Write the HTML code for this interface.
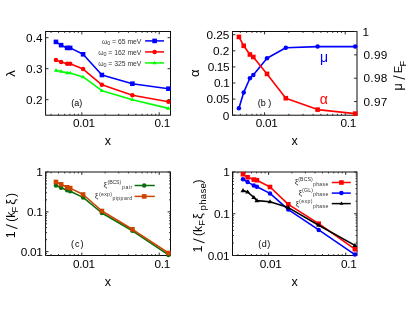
<!DOCTYPE html>
<html><head><meta charset="utf-8"><title>figure</title>
<style>html,body{margin:0;padding:0;background:#fff;}svg{display:block;font-family:"Liberation Sans", sans-serif;filter:blur(0.35px);}text{font-family:"Liberation Sans", sans-serif;}</style></head><body>
<svg width="415" height="312" viewBox="0 0 415 312">
<rect x="0" y="0" width="415" height="312" fill="#fff"/>
<rect x="45.6" y="31.5" width="124.9" height="83.7" fill="none" stroke="#000" stroke-width="0.95"/>
<line x1="51.06" y1="115.2" x2="51.06" y2="113.8" stroke="#2a2a2a" stroke-width="1.0"/>
<line x1="51.06" y1="31.5" x2="51.06" y2="32.9" stroke="#2a2a2a" stroke-width="1.0"/>
<line x1="58.56" y1="115.2" x2="58.56" y2="113.8" stroke="#2a2a2a" stroke-width="1.0"/>
<line x1="58.56" y1="31.5" x2="58.56" y2="32.9" stroke="#2a2a2a" stroke-width="1.0"/>
<line x1="64.68" y1="115.2" x2="64.68" y2="113.8" stroke="#2a2a2a" stroke-width="1.0"/>
<line x1="64.68" y1="31.5" x2="64.68" y2="32.9" stroke="#2a2a2a" stroke-width="1.0"/>
<line x1="69.86" y1="115.2" x2="69.86" y2="113.8" stroke="#2a2a2a" stroke-width="1.0"/>
<line x1="69.86" y1="31.5" x2="69.86" y2="32.9" stroke="#2a2a2a" stroke-width="1.0"/>
<line x1="74.35" y1="115.2" x2="74.35" y2="113.8" stroke="#2a2a2a" stroke-width="1.0"/>
<line x1="74.35" y1="31.5" x2="74.35" y2="32.9" stroke="#2a2a2a" stroke-width="1.0"/>
<line x1="78.3" y1="115.2" x2="78.3" y2="113.8" stroke="#2a2a2a" stroke-width="1.0"/>
<line x1="78.3" y1="31.5" x2="78.3" y2="32.9" stroke="#2a2a2a" stroke-width="1.0"/>
<line x1="81.84" y1="115.2" x2="81.84" y2="112.3" stroke="#2a2a2a" stroke-width="1.0"/>
<line x1="81.84" y1="31.5" x2="81.84" y2="34.4" stroke="#2a2a2a" stroke-width="1.0"/>
<line x1="105.13" y1="115.2" x2="105.13" y2="113.8" stroke="#2a2a2a" stroke-width="1.0"/>
<line x1="105.13" y1="31.5" x2="105.13" y2="32.9" stroke="#2a2a2a" stroke-width="1.0"/>
<line x1="118.75" y1="115.2" x2="118.75" y2="113.8" stroke="#2a2a2a" stroke-width="1.0"/>
<line x1="118.75" y1="31.5" x2="118.75" y2="32.9" stroke="#2a2a2a" stroke-width="1.0"/>
<line x1="128.41" y1="115.2" x2="128.41" y2="113.8" stroke="#2a2a2a" stroke-width="1.0"/>
<line x1="128.41" y1="31.5" x2="128.41" y2="32.9" stroke="#2a2a2a" stroke-width="1.0"/>
<line x1="135.91" y1="115.2" x2="135.91" y2="113.8" stroke="#2a2a2a" stroke-width="1.0"/>
<line x1="135.91" y1="31.5" x2="135.91" y2="32.9" stroke="#2a2a2a" stroke-width="1.0"/>
<line x1="142.04" y1="115.2" x2="142.04" y2="113.8" stroke="#2a2a2a" stroke-width="1.0"/>
<line x1="142.04" y1="31.5" x2="142.04" y2="32.9" stroke="#2a2a2a" stroke-width="1.0"/>
<line x1="147.21" y1="115.2" x2="147.21" y2="113.8" stroke="#2a2a2a" stroke-width="1.0"/>
<line x1="147.21" y1="31.5" x2="147.21" y2="32.9" stroke="#2a2a2a" stroke-width="1.0"/>
<line x1="151.7" y1="115.2" x2="151.7" y2="113.8" stroke="#2a2a2a" stroke-width="1.0"/>
<line x1="151.7" y1="31.5" x2="151.7" y2="32.9" stroke="#2a2a2a" stroke-width="1.0"/>
<line x1="155.66" y1="115.2" x2="155.66" y2="113.8" stroke="#2a2a2a" stroke-width="1.0"/>
<line x1="155.66" y1="31.5" x2="155.66" y2="32.9" stroke="#2a2a2a" stroke-width="1.0"/>
<line x1="159.2" y1="115.2" x2="159.2" y2="112.3" stroke="#2a2a2a" stroke-width="1.0"/>
<line x1="159.2" y1="31.5" x2="159.2" y2="34.4" stroke="#2a2a2a" stroke-width="1.0"/>
<line x1="45.6" y1="99.7" x2="48.5" y2="99.7" stroke="#2a2a2a" stroke-width="1.0"/>
<line x1="170.5" y1="99.7" x2="167.6" y2="99.7" stroke="#2a2a2a" stroke-width="1.0"/>
<text x="42.5" y="104.05" font-size="11.8" text-anchor="end" fill="#000">0.2</text>
<line x1="45.6" y1="68.7" x2="48.5" y2="68.7" stroke="#2a2a2a" stroke-width="1.0"/>
<line x1="170.5" y1="68.7" x2="167.6" y2="68.7" stroke="#2a2a2a" stroke-width="1.0"/>
<text x="42.5" y="73.05" font-size="11.8" text-anchor="end" fill="#000">0.3</text>
<line x1="45.6" y1="37.7" x2="48.5" y2="37.7" stroke="#2a2a2a" stroke-width="1.0"/>
<line x1="170.5" y1="37.7" x2="167.6" y2="37.7" stroke="#2a2a2a" stroke-width="1.0"/>
<text x="42.5" y="42.05" font-size="11.8" text-anchor="end" fill="#000">0.4</text>
<path d="M55.95 41.9 L61.1 45.15 L67.15 47.9 L70.15 47.9 L83.1 54.3 L101.9 75 L132.4 83.7 L168.45 88.7" fill="none" stroke="#0000ff" stroke-width="1.6" stroke-linejoin="round"/>
<rect x="53.65" y="39.6" width="4.6" height="4.6" fill="#0000ff"/>
<rect x="58.8" y="42.85" width="4.6" height="4.6" fill="#0000ff"/>
<rect x="64.85" y="45.6" width="4.6" height="4.6" fill="#0000ff"/>
<rect x="67.85" y="45.6" width="4.6" height="4.6" fill="#0000ff"/>
<rect x="80.8" y="52" width="4.6" height="4.6" fill="#0000ff"/>
<rect x="99.6" y="72.7" width="4.6" height="4.6" fill="#0000ff"/>
<rect x="130.1" y="81.4" width="4.6" height="4.6" fill="#0000ff"/>
<rect x="166.15" y="86.4" width="4.6" height="4.6" fill="#0000ff"/>
<path d="M55.95 60.1 L61.1 61.9 L67.15 63.8 L70.15 63.8 L83.1 69.1 L101.9 84.8 L132.4 95.3 L168.45 101.7" fill="none" stroke="#ff0000" stroke-width="1.6" stroke-linejoin="round"/>
<circle cx="55.95" cy="60.1" r="2.25" fill="#ff0000"/>
<circle cx="61.1" cy="61.9" r="2.25" fill="#ff0000"/>
<circle cx="67.15" cy="63.8" r="2.25" fill="#ff0000"/>
<circle cx="70.15" cy="63.8" r="2.25" fill="#ff0000"/>
<circle cx="83.1" cy="69.1" r="2.25" fill="#ff0000"/>
<circle cx="101.9" cy="84.8" r="2.25" fill="#ff0000"/>
<circle cx="132.4" cy="95.3" r="2.25" fill="#ff0000"/>
<circle cx="168.45" cy="101.7" r="2.25" fill="#ff0000"/>
<path d="M55.95 70.3 L61.1 71.5 L67.15 72.9 L70.15 72.9 L83.1 76.9 L101.9 90.7 L132.4 99.7 L168.45 108.4" fill="none" stroke="#00ff00" stroke-width="1.6" stroke-linejoin="round"/>
<path d="M55.95 68.1 L53.75 71.66 L58.15 71.66 Z" fill="#00ff00"/>
<path d="M61.1 69.3 L58.9 72.86 L63.3 72.86 Z" fill="#00ff00"/>
<path d="M67.15 70.7 L64.95 74.26 L69.35 74.26 Z" fill="#00ff00"/>
<path d="M70.15 70.7 L67.95 74.26 L72.35 74.26 Z" fill="#00ff00"/>
<path d="M83.1 74.7 L80.9 78.26 L85.3 78.26 Z" fill="#00ff00"/>
<path d="M101.9 88.5 L99.7 92.06 L104.1 92.06 Z" fill="#00ff00"/>
<path d="M132.4 97.5 L130.2 101.06 L134.6 101.06 Z" fill="#00ff00"/>
<path d="M168.45 106.2 L166.25 109.76 L170.65 109.76 Z" fill="#00ff00"/>
<text x="83.84" y="127.4" font-size="11.8" text-anchor="middle" fill="#000" letter-spacing="-0.3">0.01</text>
<text x="162.2" y="127.4" font-size="11.8" text-anchor="middle" fill="#000" letter-spacing="-0.3">0.1</text>
<text x="107.9" y="145.1" font-size="12.5" text-anchor="middle" fill="#000">x</text>
<text x="0" y="0" font-size="13" text-anchor="middle" fill="#000" transform="translate(14.9 73.6) rotate(-90)">&#955;</text>
<text x="76.7" y="106.3" font-size="9" text-anchor="middle" fill="#000">(a)</text>
<line x1="145.1" y1="40.9" x2="164" y2="40.9" stroke="#0000ff" stroke-width="1.5"/>
<rect x="152.3" y="38.6" width="4.6" height="4.6" fill="#0000ff"/>
<text x="141.4" y="43.5" font-size="6.8" text-anchor="end" fill="#333">&#969;<tspan dy="1.6" font-size="5.4">0</tspan><tspan dy="-1.6"> = 65 meV</tspan></text>
<line x1="145.1" y1="51.9" x2="164" y2="51.9" stroke="#ff0000" stroke-width="1.5"/>
<circle cx="154.6" cy="51.9" r="2.25" fill="#ff0000"/>
<text x="141.4" y="54.5" font-size="6.8" text-anchor="end" fill="#333">&#969;<tspan dy="1.6" font-size="5.4">0</tspan><tspan dy="-1.6"> = 162 meV</tspan></text>
<line x1="145.1" y1="62.9" x2="164" y2="62.9" stroke="#00ff00" stroke-width="1.5"/>
<path d="M154.6 60.7 L152.4 64.26 L156.8 64.26 Z" fill="#00ff00"/>
<text x="141.4" y="65.5" font-size="6.8" text-anchor="end" fill="#333">&#969;<tspan dy="1.6" font-size="5.4">0</tspan><tspan dy="-1.6"> = 325 meV</tspan></text>
<rect x="232.5" y="31.5" width="124.5" height="83.7" fill="none" stroke="#000" stroke-width="0.95"/>
<line x1="232.5" y1="115.2" x2="232.5" y2="113.8" stroke="#2a2a2a" stroke-width="1.0"/>
<line x1="232.5" y1="31.5" x2="232.5" y2="32.9" stroke="#2a2a2a" stroke-width="1.0"/>
<line x1="240.31" y1="115.2" x2="240.31" y2="113.8" stroke="#2a2a2a" stroke-width="1.0"/>
<line x1="240.31" y1="31.5" x2="240.31" y2="32.9" stroke="#2a2a2a" stroke-width="1.0"/>
<line x1="246.7" y1="115.2" x2="246.7" y2="113.8" stroke="#2a2a2a" stroke-width="1.0"/>
<line x1="246.7" y1="31.5" x2="246.7" y2="32.9" stroke="#2a2a2a" stroke-width="1.0"/>
<line x1="252.1" y1="115.2" x2="252.1" y2="113.8" stroke="#2a2a2a" stroke-width="1.0"/>
<line x1="252.1" y1="31.5" x2="252.1" y2="32.9" stroke="#2a2a2a" stroke-width="1.0"/>
<line x1="256.77" y1="115.2" x2="256.77" y2="113.8" stroke="#2a2a2a" stroke-width="1.0"/>
<line x1="256.77" y1="31.5" x2="256.77" y2="32.9" stroke="#2a2a2a" stroke-width="1.0"/>
<line x1="260.9" y1="115.2" x2="260.9" y2="113.8" stroke="#2a2a2a" stroke-width="1.0"/>
<line x1="260.9" y1="31.5" x2="260.9" y2="32.9" stroke="#2a2a2a" stroke-width="1.0"/>
<line x1="264.59" y1="115.2" x2="264.59" y2="112.3" stroke="#2a2a2a" stroke-width="1.0"/>
<line x1="264.59" y1="31.5" x2="264.59" y2="34.4" stroke="#2a2a2a" stroke-width="1.0"/>
<line x1="288.86" y1="115.2" x2="288.86" y2="113.8" stroke="#2a2a2a" stroke-width="1.0"/>
<line x1="288.86" y1="31.5" x2="288.86" y2="32.9" stroke="#2a2a2a" stroke-width="1.0"/>
<line x1="303.06" y1="115.2" x2="303.06" y2="113.8" stroke="#2a2a2a" stroke-width="1.0"/>
<line x1="303.06" y1="31.5" x2="303.06" y2="32.9" stroke="#2a2a2a" stroke-width="1.0"/>
<line x1="313.13" y1="115.2" x2="313.13" y2="113.8" stroke="#2a2a2a" stroke-width="1.0"/>
<line x1="313.13" y1="31.5" x2="313.13" y2="32.9" stroke="#2a2a2a" stroke-width="1.0"/>
<line x1="320.95" y1="115.2" x2="320.95" y2="113.8" stroke="#2a2a2a" stroke-width="1.0"/>
<line x1="320.95" y1="31.5" x2="320.95" y2="32.9" stroke="#2a2a2a" stroke-width="1.0"/>
<line x1="327.33" y1="115.2" x2="327.33" y2="113.8" stroke="#2a2a2a" stroke-width="1.0"/>
<line x1="327.33" y1="31.5" x2="327.33" y2="32.9" stroke="#2a2a2a" stroke-width="1.0"/>
<line x1="332.73" y1="115.2" x2="332.73" y2="113.8" stroke="#2a2a2a" stroke-width="1.0"/>
<line x1="332.73" y1="31.5" x2="332.73" y2="32.9" stroke="#2a2a2a" stroke-width="1.0"/>
<line x1="337.4" y1="115.2" x2="337.4" y2="113.8" stroke="#2a2a2a" stroke-width="1.0"/>
<line x1="337.4" y1="31.5" x2="337.4" y2="32.9" stroke="#2a2a2a" stroke-width="1.0"/>
<line x1="341.53" y1="115.2" x2="341.53" y2="113.8" stroke="#2a2a2a" stroke-width="1.0"/>
<line x1="341.53" y1="31.5" x2="341.53" y2="32.9" stroke="#2a2a2a" stroke-width="1.0"/>
<line x1="345.22" y1="115.2" x2="345.22" y2="112.3" stroke="#2a2a2a" stroke-width="1.0"/>
<line x1="345.22" y1="31.5" x2="345.22" y2="34.4" stroke="#2a2a2a" stroke-width="1.0"/>
<line x1="232.5" y1="115.2" x2="235.4" y2="115.2" stroke="#2a2a2a" stroke-width="1.0"/>
<text x="229.4" y="119.55" font-size="11.8" text-anchor="end" fill="#000">0</text>
<line x1="232.5" y1="99.1" x2="235.4" y2="99.1" stroke="#2a2a2a" stroke-width="1.0"/>
<text x="229.4" y="103.45" font-size="11.8" text-anchor="end" fill="#000">0.05</text>
<line x1="232.5" y1="83.01" x2="235.4" y2="83.01" stroke="#2a2a2a" stroke-width="1.0"/>
<text x="229.4" y="87.36" font-size="11.8" text-anchor="end" fill="#000" letter-spacing="-0.3">0.1</text>
<line x1="232.5" y1="66.91" x2="235.4" y2="66.91" stroke="#2a2a2a" stroke-width="1.0"/>
<text x="229.4" y="71.26" font-size="11.8" text-anchor="end" fill="#000" letter-spacing="-0.3">0.15</text>
<line x1="232.5" y1="50.82" x2="235.4" y2="50.82" stroke="#2a2a2a" stroke-width="1.0"/>
<text x="229.4" y="55.17" font-size="11.8" text-anchor="end" fill="#000">0.2</text>
<line x1="232.5" y1="34.72" x2="235.4" y2="34.72" stroke="#2a2a2a" stroke-width="1.0"/>
<text x="229.4" y="39.07" font-size="11.8" text-anchor="end" fill="#000">0.25</text>
<line x1="357" y1="101.56" x2="354.1" y2="101.56" stroke="#2a2a2a" stroke-width="1.0"/>
<text x="363.5" y="105.76" font-size="11.8" text-anchor="start" fill="#000" letter-spacing="0.3">0.97</text>
<line x1="357" y1="78.21" x2="354.1" y2="78.21" stroke="#2a2a2a" stroke-width="1.0"/>
<text x="363.5" y="82.41" font-size="11.8" text-anchor="start" fill="#000" letter-spacing="0.3">0.98</text>
<line x1="357" y1="54.85" x2="354.1" y2="54.85" stroke="#2a2a2a" stroke-width="1.0"/>
<text x="363.5" y="59.05" font-size="11.8" text-anchor="start" fill="#000" letter-spacing="0.3">0.99</text>
<line x1="357" y1="31.5" x2="354.1" y2="31.5" stroke="#2a2a2a" stroke-width="1.0"/>
<text x="362.6" y="35.7" font-size="11.8" text-anchor="start" fill="#000" letter-spacing="0.3">1</text>
<path d="M238.9 108.2 L243.7 92.4 L249.9 78.3 L253.3 75.1 L267 58.3 L285.8 47.7 L317.6 46.6 L355.2 46.6" fill="none" stroke="#0000ff" stroke-width="1.6" stroke-linejoin="round"/>
<circle cx="238.9" cy="108.2" r="2.25" fill="#0000ff"/>
<circle cx="243.7" cy="92.4" r="2.25" fill="#0000ff"/>
<circle cx="249.9" cy="78.3" r="2.25" fill="#0000ff"/>
<circle cx="253.3" cy="75.1" r="2.25" fill="#0000ff"/>
<circle cx="267" cy="58.3" r="2.25" fill="#0000ff"/>
<circle cx="285.8" cy="47.7" r="2.25" fill="#0000ff"/>
<circle cx="317.6" cy="46.6" r="2.25" fill="#0000ff"/>
<circle cx="355.2" cy="46.6" r="2.25" fill="#0000ff"/>
<path d="M238.9 36.9 L243.7 45.8 L249.9 54.5 L253.3 57 L267 73.9 L285.8 98.2 L317.6 109.6 L355.2 113.6" fill="none" stroke="#ff0000" stroke-width="1.6" stroke-linejoin="round"/>
<rect x="236.6" y="34.6" width="4.6" height="4.6" fill="#ff0000"/>
<rect x="241.4" y="43.5" width="4.6" height="4.6" fill="#ff0000"/>
<rect x="247.6" y="52.2" width="4.6" height="4.6" fill="#ff0000"/>
<rect x="251" y="54.7" width="4.6" height="4.6" fill="#ff0000"/>
<rect x="264.7" y="71.6" width="4.6" height="4.6" fill="#ff0000"/>
<rect x="283.5" y="95.9" width="4.6" height="4.6" fill="#ff0000"/>
<rect x="315.3" y="107.3" width="4.6" height="4.6" fill="#ff0000"/>
<rect x="352.9" y="111.3" width="4.6" height="4.6" fill="#ff0000"/>
<text x="266.59" y="127.4" font-size="11.8" text-anchor="middle" fill="#000" letter-spacing="-0.3">0.01</text>
<text x="348.22" y="127.4" font-size="11.8" text-anchor="middle" fill="#000" letter-spacing="-0.3">0.1</text>
<text x="294.5" y="145.1" font-size="12.5" text-anchor="middle" fill="#000">x</text>
<text x="0" y="0" font-size="13" text-anchor="middle" fill="#000" transform="translate(199.1 73.3) rotate(-90)">&#945;</text>
<text x="0" y="0" font-size="12.5" text-anchor="start" fill="#000" transform="translate(402.4 90.4) rotate(-90)">&#956;</text>
<line x1="404.6" y1="79.1" x2="393.6" y2="76.0" stroke="#111" stroke-width="1.05" stroke-linecap="round"/>
<text x="0" y="0" font-size="11.4" text-anchor="start" fill="#000" transform="translate(402.4 73.2) rotate(-90)">E</text>
<text x="0" y="0" font-size="9.4" text-anchor="start" fill="#000" transform="translate(405.9 66.6) rotate(-90)">F</text>
<text x="264.6" y="106.2" font-size="9" text-anchor="middle" fill="#000">(b )</text>
<text x="324" y="61.5" font-size="14" text-anchor="middle" fill="#0000ff">&#956;</text>
<text x="323.7" y="103.6" font-size="14" text-anchor="middle" fill="#ff0000">&#945;</text>
<rect x="45.6" y="172" width="124.9" height="83.5" fill="none" stroke="#000" stroke-width="0.95"/>
<line x1="51.06" y1="255.5" x2="51.06" y2="254.1" stroke="#2a2a2a" stroke-width="1.0"/>
<line x1="51.06" y1="172" x2="51.06" y2="173.4" stroke="#2a2a2a" stroke-width="1.0"/>
<line x1="58.56" y1="255.5" x2="58.56" y2="254.1" stroke="#2a2a2a" stroke-width="1.0"/>
<line x1="58.56" y1="172" x2="58.56" y2="173.4" stroke="#2a2a2a" stroke-width="1.0"/>
<line x1="64.68" y1="255.5" x2="64.68" y2="254.1" stroke="#2a2a2a" stroke-width="1.0"/>
<line x1="64.68" y1="172" x2="64.68" y2="173.4" stroke="#2a2a2a" stroke-width="1.0"/>
<line x1="69.86" y1="255.5" x2="69.86" y2="254.1" stroke="#2a2a2a" stroke-width="1.0"/>
<line x1="69.86" y1="172" x2="69.86" y2="173.4" stroke="#2a2a2a" stroke-width="1.0"/>
<line x1="74.35" y1="255.5" x2="74.35" y2="254.1" stroke="#2a2a2a" stroke-width="1.0"/>
<line x1="74.35" y1="172" x2="74.35" y2="173.4" stroke="#2a2a2a" stroke-width="1.0"/>
<line x1="78.3" y1="255.5" x2="78.3" y2="254.1" stroke="#2a2a2a" stroke-width="1.0"/>
<line x1="78.3" y1="172" x2="78.3" y2="173.4" stroke="#2a2a2a" stroke-width="1.0"/>
<line x1="81.84" y1="255.5" x2="81.84" y2="252.6" stroke="#2a2a2a" stroke-width="1.0"/>
<line x1="81.84" y1="172" x2="81.84" y2="174.9" stroke="#2a2a2a" stroke-width="1.0"/>
<line x1="105.13" y1="255.5" x2="105.13" y2="254.1" stroke="#2a2a2a" stroke-width="1.0"/>
<line x1="105.13" y1="172" x2="105.13" y2="173.4" stroke="#2a2a2a" stroke-width="1.0"/>
<line x1="118.75" y1="255.5" x2="118.75" y2="254.1" stroke="#2a2a2a" stroke-width="1.0"/>
<line x1="118.75" y1="172" x2="118.75" y2="173.4" stroke="#2a2a2a" stroke-width="1.0"/>
<line x1="128.41" y1="255.5" x2="128.41" y2="254.1" stroke="#2a2a2a" stroke-width="1.0"/>
<line x1="128.41" y1="172" x2="128.41" y2="173.4" stroke="#2a2a2a" stroke-width="1.0"/>
<line x1="135.91" y1="255.5" x2="135.91" y2="254.1" stroke="#2a2a2a" stroke-width="1.0"/>
<line x1="135.91" y1="172" x2="135.91" y2="173.4" stroke="#2a2a2a" stroke-width="1.0"/>
<line x1="142.04" y1="255.5" x2="142.04" y2="254.1" stroke="#2a2a2a" stroke-width="1.0"/>
<line x1="142.04" y1="172" x2="142.04" y2="173.4" stroke="#2a2a2a" stroke-width="1.0"/>
<line x1="147.21" y1="255.5" x2="147.21" y2="254.1" stroke="#2a2a2a" stroke-width="1.0"/>
<line x1="147.21" y1="172" x2="147.21" y2="173.4" stroke="#2a2a2a" stroke-width="1.0"/>
<line x1="151.7" y1="255.5" x2="151.7" y2="254.1" stroke="#2a2a2a" stroke-width="1.0"/>
<line x1="151.7" y1="172" x2="151.7" y2="173.4" stroke="#2a2a2a" stroke-width="1.0"/>
<line x1="155.66" y1="255.5" x2="155.66" y2="254.1" stroke="#2a2a2a" stroke-width="1.0"/>
<line x1="155.66" y1="172" x2="155.66" y2="173.4" stroke="#2a2a2a" stroke-width="1.0"/>
<line x1="159.2" y1="255.5" x2="159.2" y2="252.6" stroke="#2a2a2a" stroke-width="1.0"/>
<line x1="159.2" y1="172" x2="159.2" y2="174.9" stroke="#2a2a2a" stroke-width="1.0"/>
<line x1="45.6" y1="255.5" x2="47" y2="255.5" stroke="#2a2a2a" stroke-width="1.0"/>
<line x1="170.5" y1="255.5" x2="169.1" y2="255.5" stroke="#2a2a2a" stroke-width="1.0"/>
<line x1="45.6" y1="253.46" x2="47" y2="253.46" stroke="#2a2a2a" stroke-width="1.0"/>
<line x1="170.5" y1="253.46" x2="169.1" y2="253.46" stroke="#2a2a2a" stroke-width="1.0"/>
<line x1="45.6" y1="251.64" x2="48.5" y2="251.64" stroke="#2a2a2a" stroke-width="1.0"/>
<line x1="170.5" y1="251.64" x2="167.6" y2="251.64" stroke="#2a2a2a" stroke-width="1.0"/>
<line x1="45.6" y1="239.65" x2="47" y2="239.65" stroke="#2a2a2a" stroke-width="1.0"/>
<line x1="170.5" y1="239.65" x2="169.1" y2="239.65" stroke="#2a2a2a" stroke-width="1.0"/>
<line x1="45.6" y1="232.64" x2="47" y2="232.64" stroke="#2a2a2a" stroke-width="1.0"/>
<line x1="170.5" y1="232.64" x2="169.1" y2="232.64" stroke="#2a2a2a" stroke-width="1.0"/>
<line x1="45.6" y1="227.67" x2="47" y2="227.67" stroke="#2a2a2a" stroke-width="1.0"/>
<line x1="170.5" y1="227.67" x2="169.1" y2="227.67" stroke="#2a2a2a" stroke-width="1.0"/>
<line x1="45.6" y1="223.81" x2="47" y2="223.81" stroke="#2a2a2a" stroke-width="1.0"/>
<line x1="170.5" y1="223.81" x2="169.1" y2="223.81" stroke="#2a2a2a" stroke-width="1.0"/>
<line x1="45.6" y1="220.65" x2="47" y2="220.65" stroke="#2a2a2a" stroke-width="1.0"/>
<line x1="170.5" y1="220.65" x2="169.1" y2="220.65" stroke="#2a2a2a" stroke-width="1.0"/>
<line x1="45.6" y1="217.99" x2="47" y2="217.99" stroke="#2a2a2a" stroke-width="1.0"/>
<line x1="170.5" y1="217.99" x2="169.1" y2="217.99" stroke="#2a2a2a" stroke-width="1.0"/>
<line x1="45.6" y1="215.68" x2="47" y2="215.68" stroke="#2a2a2a" stroke-width="1.0"/>
<line x1="170.5" y1="215.68" x2="169.1" y2="215.68" stroke="#2a2a2a" stroke-width="1.0"/>
<line x1="45.6" y1="213.64" x2="47" y2="213.64" stroke="#2a2a2a" stroke-width="1.0"/>
<line x1="170.5" y1="213.64" x2="169.1" y2="213.64" stroke="#2a2a2a" stroke-width="1.0"/>
<line x1="45.6" y1="211.82" x2="48.5" y2="211.82" stroke="#2a2a2a" stroke-width="1.0"/>
<line x1="170.5" y1="211.82" x2="167.6" y2="211.82" stroke="#2a2a2a" stroke-width="1.0"/>
<line x1="45.6" y1="199.83" x2="47" y2="199.83" stroke="#2a2a2a" stroke-width="1.0"/>
<line x1="170.5" y1="199.83" x2="169.1" y2="199.83" stroke="#2a2a2a" stroke-width="1.0"/>
<line x1="45.6" y1="192.82" x2="47" y2="192.82" stroke="#2a2a2a" stroke-width="1.0"/>
<line x1="170.5" y1="192.82" x2="169.1" y2="192.82" stroke="#2a2a2a" stroke-width="1.0"/>
<line x1="45.6" y1="187.85" x2="47" y2="187.85" stroke="#2a2a2a" stroke-width="1.0"/>
<line x1="170.5" y1="187.85" x2="169.1" y2="187.85" stroke="#2a2a2a" stroke-width="1.0"/>
<line x1="45.6" y1="183.99" x2="47" y2="183.99" stroke="#2a2a2a" stroke-width="1.0"/>
<line x1="170.5" y1="183.99" x2="169.1" y2="183.99" stroke="#2a2a2a" stroke-width="1.0"/>
<line x1="45.6" y1="180.83" x2="47" y2="180.83" stroke="#2a2a2a" stroke-width="1.0"/>
<line x1="170.5" y1="180.83" x2="169.1" y2="180.83" stroke="#2a2a2a" stroke-width="1.0"/>
<line x1="45.6" y1="178.17" x2="47" y2="178.17" stroke="#2a2a2a" stroke-width="1.0"/>
<line x1="170.5" y1="178.17" x2="169.1" y2="178.17" stroke="#2a2a2a" stroke-width="1.0"/>
<line x1="45.6" y1="175.86" x2="47" y2="175.86" stroke="#2a2a2a" stroke-width="1.0"/>
<line x1="170.5" y1="175.86" x2="169.1" y2="175.86" stroke="#2a2a2a" stroke-width="1.0"/>
<line x1="45.6" y1="173.82" x2="47" y2="173.82" stroke="#2a2a2a" stroke-width="1.0"/>
<line x1="170.5" y1="173.82" x2="169.1" y2="173.82" stroke="#2a2a2a" stroke-width="1.0"/>
<line x1="45.6" y1="172" x2="48.5" y2="172" stroke="#2a2a2a" stroke-width="1.0"/>
<line x1="170.5" y1="172" x2="167.6" y2="172" stroke="#2a2a2a" stroke-width="1.0"/>
<text x="42.5" y="255.99" font-size="11.8" text-anchor="end" fill="#000" letter-spacing="-0.3">0.01</text>
<text x="42.5" y="216.17" font-size="11.8" text-anchor="end" fill="#000" letter-spacing="-0.3">0.1</text>
<text x="42.5" y="176.35" font-size="11.8" text-anchor="end" fill="#000" letter-spacing="-0.3">1</text>
<path d="M55.95 185.4 L61.1 187.7 L67.15 190.2 L70.15 191.2 L83.1 197.4 L101.9 213 L132.4 230.8 L168.45 254.9" fill="none" stroke="#0a6e0a" stroke-width="1.6" stroke-linejoin="round"/>
<circle cx="55.95" cy="185.4" r="2.25" fill="#0a6e0a"/>
<circle cx="61.1" cy="187.7" r="2.25" fill="#0a6e0a"/>
<circle cx="67.15" cy="190.2" r="2.25" fill="#0a6e0a"/>
<circle cx="70.15" cy="191.2" r="2.25" fill="#0a6e0a"/>
<circle cx="83.1" cy="197.4" r="2.25" fill="#0a6e0a"/>
<circle cx="101.9" cy="213" r="2.25" fill="#0a6e0a"/>
<circle cx="132.4" cy="230.8" r="2.25" fill="#0a6e0a"/>
<circle cx="168.45" cy="254.9" r="2.25" fill="#0a6e0a"/>
<path d="M55.95 181.95 L61.1 184.3 L67.15 187.3 L70.15 188.1 L83.1 194.5 L101.9 211 L132.4 229.3 L168.45 253" fill="none" stroke="#cc4400" stroke-width="1.6" stroke-linejoin="round"/>
<rect x="53.65" y="179.65" width="4.6" height="4.6" fill="#cc4400"/>
<rect x="58.8" y="182" width="4.6" height="4.6" fill="#cc4400"/>
<rect x="64.85" y="185" width="4.6" height="4.6" fill="#cc4400"/>
<rect x="67.85" y="185.8" width="4.6" height="4.6" fill="#cc4400"/>
<rect x="80.8" y="192.2" width="4.6" height="4.6" fill="#cc4400"/>
<rect x="99.6" y="208.7" width="4.6" height="4.6" fill="#cc4400"/>
<rect x="130.1" y="227" width="4.6" height="4.6" fill="#cc4400"/>
<rect x="166.15" y="250.7" width="4.6" height="4.6" fill="#cc4400"/>
<text x="83.84" y="267.7" font-size="11.8" text-anchor="middle" fill="#000" letter-spacing="-0.3">0.01</text>
<text x="162.2" y="267.7" font-size="11.8" text-anchor="middle" fill="#000" letter-spacing="-0.3">0.1</text>
<text x="107.9" y="285.6" font-size="12.5" text-anchor="middle" fill="#000">x</text>
<text x="0" y="0" font-size="12.2" text-anchor="start" fill="#000" transform="translate(14.9 238.2) rotate(-90)">1</text>
<line x1="17" y1="228.6" x2="6.4" y2="224.8" stroke="#111" stroke-width="1.05" stroke-linecap="round"/>
<text x="0" y="0" font-size="12.2" text-anchor="start" fill="#000" transform="translate(14.9 221.8) rotate(-90)">(k</text>
<text x="0" y="0" font-size="9.2" text-anchor="start" fill="#000" transform="translate(18 212.4) rotate(-90)">F</text>
<text x="0" y="0" font-size="13" text-anchor="start" fill="#000" transform="translate(14.9 204.8) rotate(-90)">&#958;</text>
<text x="0" y="0" font-size="12.2" text-anchor="start" fill="#000" transform="translate(14.9 197.1) rotate(-90)">)</text>
<text x="77.7" y="246.9" font-size="9" text-anchor="middle" fill="#000" letter-spacing="1">(c)</text>
<line x1="134.6" y1="185.5" x2="154.8" y2="185.5" stroke="#0a6e0a" stroke-width="1.5"/>
<circle cx="144.2" cy="185.5" r="2.25" fill="#0a6e0a"/>
<text x="103.5" y="187" font-size="8" text-anchor="start" fill="#333">&#958;</text>
<text x="107.6" y="184.4" font-size="5.2" text-anchor="start" fill="#333" letter-spacing="-0.15">(BCS)</text>
<text x="122" y="189.4" font-size="5.2" text-anchor="start" fill="#333" letter-spacing="0.5">pair</text>
<line x1="134.6" y1="196.4" x2="154.8" y2="196.4" stroke="#cc4400" stroke-width="1.5"/>
<rect x="141.9" y="194.1" width="4.6" height="4.6" fill="#cc4400"/>
<text x="94.8" y="197.6" font-size="8" text-anchor="start" fill="#333">&#958;</text>
<text x="99.1" y="195.5" font-size="5.2" text-anchor="start" fill="#333" letter-spacing="0.25">(exp)</text>
<text x="112.5" y="200.4" font-size="5.2" text-anchor="start" fill="#333" letter-spacing="0.4">pippard</text>
<rect x="232.5" y="172" width="124.5" height="83.5" fill="none" stroke="#000" stroke-width="0.95"/>
<line x1="237.94" y1="255.5" x2="237.94" y2="254.1" stroke="#2a2a2a" stroke-width="1.0"/>
<line x1="237.94" y1="172" x2="237.94" y2="173.4" stroke="#2a2a2a" stroke-width="1.0"/>
<line x1="245.41" y1="255.5" x2="245.41" y2="254.1" stroke="#2a2a2a" stroke-width="1.0"/>
<line x1="245.41" y1="172" x2="245.41" y2="173.4" stroke="#2a2a2a" stroke-width="1.0"/>
<line x1="251.52" y1="255.5" x2="251.52" y2="254.1" stroke="#2a2a2a" stroke-width="1.0"/>
<line x1="251.52" y1="172" x2="251.52" y2="173.4" stroke="#2a2a2a" stroke-width="1.0"/>
<line x1="256.68" y1="255.5" x2="256.68" y2="254.1" stroke="#2a2a2a" stroke-width="1.0"/>
<line x1="256.68" y1="172" x2="256.68" y2="173.4" stroke="#2a2a2a" stroke-width="1.0"/>
<line x1="261.15" y1="255.5" x2="261.15" y2="254.1" stroke="#2a2a2a" stroke-width="1.0"/>
<line x1="261.15" y1="172" x2="261.15" y2="173.4" stroke="#2a2a2a" stroke-width="1.0"/>
<line x1="265.1" y1="255.5" x2="265.1" y2="254.1" stroke="#2a2a2a" stroke-width="1.0"/>
<line x1="265.1" y1="172" x2="265.1" y2="173.4" stroke="#2a2a2a" stroke-width="1.0"/>
<line x1="268.63" y1="255.5" x2="268.63" y2="252.6" stroke="#2a2a2a" stroke-width="1.0"/>
<line x1="268.63" y1="172" x2="268.63" y2="174.9" stroke="#2a2a2a" stroke-width="1.0"/>
<line x1="291.84" y1="255.5" x2="291.84" y2="254.1" stroke="#2a2a2a" stroke-width="1.0"/>
<line x1="291.84" y1="172" x2="291.84" y2="173.4" stroke="#2a2a2a" stroke-width="1.0"/>
<line x1="305.42" y1="255.5" x2="305.42" y2="254.1" stroke="#2a2a2a" stroke-width="1.0"/>
<line x1="305.42" y1="172" x2="305.42" y2="173.4" stroke="#2a2a2a" stroke-width="1.0"/>
<line x1="315.05" y1="255.5" x2="315.05" y2="254.1" stroke="#2a2a2a" stroke-width="1.0"/>
<line x1="315.05" y1="172" x2="315.05" y2="173.4" stroke="#2a2a2a" stroke-width="1.0"/>
<line x1="322.52" y1="255.5" x2="322.52" y2="254.1" stroke="#2a2a2a" stroke-width="1.0"/>
<line x1="322.52" y1="172" x2="322.52" y2="173.4" stroke="#2a2a2a" stroke-width="1.0"/>
<line x1="328.63" y1="255.5" x2="328.63" y2="254.1" stroke="#2a2a2a" stroke-width="1.0"/>
<line x1="328.63" y1="172" x2="328.63" y2="173.4" stroke="#2a2a2a" stroke-width="1.0"/>
<line x1="333.79" y1="255.5" x2="333.79" y2="254.1" stroke="#2a2a2a" stroke-width="1.0"/>
<line x1="333.79" y1="172" x2="333.79" y2="173.4" stroke="#2a2a2a" stroke-width="1.0"/>
<line x1="338.26" y1="255.5" x2="338.26" y2="254.1" stroke="#2a2a2a" stroke-width="1.0"/>
<line x1="338.26" y1="172" x2="338.26" y2="173.4" stroke="#2a2a2a" stroke-width="1.0"/>
<line x1="342.2" y1="255.5" x2="342.2" y2="254.1" stroke="#2a2a2a" stroke-width="1.0"/>
<line x1="342.2" y1="172" x2="342.2" y2="173.4" stroke="#2a2a2a" stroke-width="1.0"/>
<line x1="345.73" y1="255.5" x2="345.73" y2="252.6" stroke="#2a2a2a" stroke-width="1.0"/>
<line x1="345.73" y1="172" x2="345.73" y2="174.9" stroke="#2a2a2a" stroke-width="1.0"/>
<line x1="232.5" y1="255.5" x2="235.4" y2="255.5" stroke="#2a2a2a" stroke-width="1.0"/>
<line x1="357" y1="255.5" x2="354.1" y2="255.5" stroke="#2a2a2a" stroke-width="1.0"/>
<line x1="232.5" y1="242.93" x2="233.9" y2="242.93" stroke="#2a2a2a" stroke-width="1.0"/>
<line x1="357" y1="242.93" x2="355.6" y2="242.93" stroke="#2a2a2a" stroke-width="1.0"/>
<line x1="232.5" y1="235.58" x2="233.9" y2="235.58" stroke="#2a2a2a" stroke-width="1.0"/>
<line x1="357" y1="235.58" x2="355.6" y2="235.58" stroke="#2a2a2a" stroke-width="1.0"/>
<line x1="232.5" y1="230.36" x2="233.9" y2="230.36" stroke="#2a2a2a" stroke-width="1.0"/>
<line x1="357" y1="230.36" x2="355.6" y2="230.36" stroke="#2a2a2a" stroke-width="1.0"/>
<line x1="232.5" y1="226.32" x2="233.9" y2="226.32" stroke="#2a2a2a" stroke-width="1.0"/>
<line x1="357" y1="226.32" x2="355.6" y2="226.32" stroke="#2a2a2a" stroke-width="1.0"/>
<line x1="232.5" y1="223.01" x2="233.9" y2="223.01" stroke="#2a2a2a" stroke-width="1.0"/>
<line x1="357" y1="223.01" x2="355.6" y2="223.01" stroke="#2a2a2a" stroke-width="1.0"/>
<line x1="232.5" y1="220.22" x2="233.9" y2="220.22" stroke="#2a2a2a" stroke-width="1.0"/>
<line x1="357" y1="220.22" x2="355.6" y2="220.22" stroke="#2a2a2a" stroke-width="1.0"/>
<line x1="232.5" y1="217.8" x2="233.9" y2="217.8" stroke="#2a2a2a" stroke-width="1.0"/>
<line x1="357" y1="217.8" x2="355.6" y2="217.8" stroke="#2a2a2a" stroke-width="1.0"/>
<line x1="232.5" y1="215.66" x2="233.9" y2="215.66" stroke="#2a2a2a" stroke-width="1.0"/>
<line x1="357" y1="215.66" x2="355.6" y2="215.66" stroke="#2a2a2a" stroke-width="1.0"/>
<line x1="232.5" y1="213.75" x2="235.4" y2="213.75" stroke="#2a2a2a" stroke-width="1.0"/>
<line x1="357" y1="213.75" x2="354.1" y2="213.75" stroke="#2a2a2a" stroke-width="1.0"/>
<line x1="232.5" y1="201.18" x2="233.9" y2="201.18" stroke="#2a2a2a" stroke-width="1.0"/>
<line x1="357" y1="201.18" x2="355.6" y2="201.18" stroke="#2a2a2a" stroke-width="1.0"/>
<line x1="232.5" y1="193.83" x2="233.9" y2="193.83" stroke="#2a2a2a" stroke-width="1.0"/>
<line x1="357" y1="193.83" x2="355.6" y2="193.83" stroke="#2a2a2a" stroke-width="1.0"/>
<line x1="232.5" y1="188.61" x2="233.9" y2="188.61" stroke="#2a2a2a" stroke-width="1.0"/>
<line x1="357" y1="188.61" x2="355.6" y2="188.61" stroke="#2a2a2a" stroke-width="1.0"/>
<line x1="232.5" y1="184.57" x2="233.9" y2="184.57" stroke="#2a2a2a" stroke-width="1.0"/>
<line x1="357" y1="184.57" x2="355.6" y2="184.57" stroke="#2a2a2a" stroke-width="1.0"/>
<line x1="232.5" y1="181.26" x2="233.9" y2="181.26" stroke="#2a2a2a" stroke-width="1.0"/>
<line x1="357" y1="181.26" x2="355.6" y2="181.26" stroke="#2a2a2a" stroke-width="1.0"/>
<line x1="232.5" y1="178.47" x2="233.9" y2="178.47" stroke="#2a2a2a" stroke-width="1.0"/>
<line x1="357" y1="178.47" x2="355.6" y2="178.47" stroke="#2a2a2a" stroke-width="1.0"/>
<line x1="232.5" y1="176.05" x2="233.9" y2="176.05" stroke="#2a2a2a" stroke-width="1.0"/>
<line x1="357" y1="176.05" x2="355.6" y2="176.05" stroke="#2a2a2a" stroke-width="1.0"/>
<line x1="232.5" y1="173.91" x2="233.9" y2="173.91" stroke="#2a2a2a" stroke-width="1.0"/>
<line x1="357" y1="173.91" x2="355.6" y2="173.91" stroke="#2a2a2a" stroke-width="1.0"/>
<line x1="232.5" y1="172" x2="235.4" y2="172" stroke="#2a2a2a" stroke-width="1.0"/>
<line x1="357" y1="172" x2="354.1" y2="172" stroke="#2a2a2a" stroke-width="1.0"/>
<text x="229.4" y="260.25" font-size="11.8" text-anchor="end" fill="#000" letter-spacing="-0.3">0.01</text>
<text x="229.4" y="218.1" font-size="11.8" text-anchor="end" fill="#000" letter-spacing="-0.3">0.1</text>
<text x="229.4" y="176.35" font-size="11.8" text-anchor="end" fill="#000" letter-spacing="-0.3">1</text>
<path d="M243 174.2 L247.6 177.3 L253.8 179.6 L256.9 180.2 L270 187 L288.3 204.3 L318.7 223.7 L354.9 249.2" fill="none" stroke="#ff0000" stroke-width="1.6" stroke-linejoin="round"/>
<rect x="240.7" y="171.9" width="4.6" height="4.6" fill="#ff0000"/>
<rect x="245.3" y="175" width="4.6" height="4.6" fill="#ff0000"/>
<rect x="251.5" y="177.3" width="4.6" height="4.6" fill="#ff0000"/>
<rect x="254.6" y="177.9" width="4.6" height="4.6" fill="#ff0000"/>
<rect x="267.7" y="184.7" width="4.6" height="4.6" fill="#ff0000"/>
<rect x="286" y="202" width="4.6" height="4.6" fill="#ff0000"/>
<rect x="316.4" y="221.4" width="4.6" height="4.6" fill="#ff0000"/>
<rect x="352.6" y="246.9" width="4.6" height="4.6" fill="#ff0000"/>
<path d="M243 179.25 L247.6 182.1 L253.8 185.4 L256.9 186.8 L270 193.4 L288.3 209.6 L318.7 229.9 L354.9 254.6" fill="none" stroke="#0000ff" stroke-width="1.6" stroke-linejoin="round"/>
<circle cx="243" cy="179.25" r="2.25" fill="#0000ff"/>
<circle cx="247.6" cy="182.1" r="2.25" fill="#0000ff"/>
<circle cx="253.8" cy="185.4" r="2.25" fill="#0000ff"/>
<circle cx="256.9" cy="186.8" r="2.25" fill="#0000ff"/>
<circle cx="270" cy="193.4" r="2.25" fill="#0000ff"/>
<circle cx="288.3" cy="209.6" r="2.25" fill="#0000ff"/>
<circle cx="318.7" cy="229.9" r="2.25" fill="#0000ff"/>
<circle cx="354.9" cy="254.6" r="2.25" fill="#0000ff"/>
<path d="M243 190.6 L247.6 192 L253.8 197.4 L256.9 200.6 L270 201.8 L288.3 207.6 L318.7 225.2 L354.9 245.4" fill="none" stroke="#000000" stroke-width="1.6" stroke-linejoin="round"/>
<path d="M243 188.1 L240.5 192.15 L245.5 192.15 Z" fill="#000000"/>
<path d="M247.6 189.5 L245.1 193.55 L250.1 193.55 Z" fill="#000000"/>
<path d="M253.8 194.9 L251.3 198.95 L256.3 198.95 Z" fill="#000000"/>
<path d="M256.9 198.1 L254.4 202.15 L259.4 202.15 Z" fill="#000000"/>
<path d="M270 199.3 L267.5 203.35 L272.5 203.35 Z" fill="#000000"/>
<path d="M288.3 205.1 L285.8 209.15 L290.8 209.15 Z" fill="#000000"/>
<path d="M318.7 222.7 L316.2 226.75 L321.2 226.75 Z" fill="#000000"/>
<path d="M354.9 242.9 L352.4 246.95 L357.4 246.95 Z" fill="#000000"/>
<text x="270.63" y="267.7" font-size="11.8" text-anchor="middle" fill="#000" letter-spacing="-0.3">0.01</text>
<text x="348.73" y="267.7" font-size="11.8" text-anchor="middle" fill="#000" letter-spacing="-0.3">0.1</text>
<text x="294.5" y="285.6" font-size="12.5" text-anchor="middle" fill="#000">x</text>
<text x="0" y="0" font-size="12.2" text-anchor="start" fill="#000" transform="translate(202.1 252.4) rotate(-90)">1</text>
<line x1="204.2" y1="242.8" x2="193.6" y2="239" stroke="#111" stroke-width="1.05" stroke-linecap="round"/>
<text x="0" y="0" font-size="12.2" text-anchor="start" fill="#000" transform="translate(202.1 236) rotate(-90)">(k</text>
<text x="0" y="0" font-size="9.2" text-anchor="start" fill="#000" transform="translate(205.2 225.7) rotate(-90)">F</text>
<text x="0" y="0" font-size="13" text-anchor="start" fill="#000" transform="translate(202.1 219) rotate(-90)">&#958;</text>
<text x="0" y="0" font-size="9.6" text-anchor="start" fill="#000" transform="translate(205.6 210.4) rotate(-90)" letter-spacing="0.3">phase</text>
<text x="0" y="0" font-size="12.2" text-anchor="start" fill="#000" transform="translate(202.1 183.5) rotate(-90)">)</text>
<text x="264.4" y="246.9" font-size="9" text-anchor="middle" fill="#000" letter-spacing="0.5">(d)</text>
<line x1="331.8" y1="182.5" x2="350.8" y2="182.5" stroke="#ff0000" stroke-width="1.5"/>
<rect x="339.1" y="180.2" width="4.6" height="4.6" fill="#ff0000"/>
<text x="294.7" y="184" font-size="8" text-anchor="start" fill="#333">&#958;</text>
<text x="298.3" y="180.8" font-size="5.2" text-anchor="start" fill="#333" letter-spacing="0.1">(BCS)</text>
<text x="312.9" y="185.7" font-size="5.2" text-anchor="start" fill="#333" letter-spacing="0.35">phase</text>
<line x1="331.8" y1="193.1" x2="350.8" y2="193.1" stroke="#0000ff" stroke-width="1.5"/>
<circle cx="341.4" cy="193.1" r="2.25" fill="#0000ff"/>
<text x="298.5" y="195.3" font-size="8" text-anchor="start" fill="#333">&#958;</text>
<text x="302.1" y="191.7" font-size="5.2" text-anchor="start" fill="#333" letter-spacing="0.15">(GL)</text>
<text x="312.9" y="196.4" font-size="5.2" text-anchor="start" fill="#333" letter-spacing="0.35">phase</text>
<line x1="331.8" y1="203.6" x2="350.8" y2="203.6" stroke="#000000" stroke-width="1.5"/>
<path d="M341.4 201.6 L339.4 204.84 L343.4 204.84 Z" fill="#000000"/>
<text x="295.6" y="205.7" font-size="8" text-anchor="start" fill="#333">&#958;</text>
<text x="299.1" y="203.3" font-size="5.2" text-anchor="start" fill="#333" letter-spacing="0.4">(exp)</text>
<text x="312.9" y="208.2" font-size="5.2" text-anchor="start" fill="#333" letter-spacing="0.35">phase</text>
</svg></body></html>
